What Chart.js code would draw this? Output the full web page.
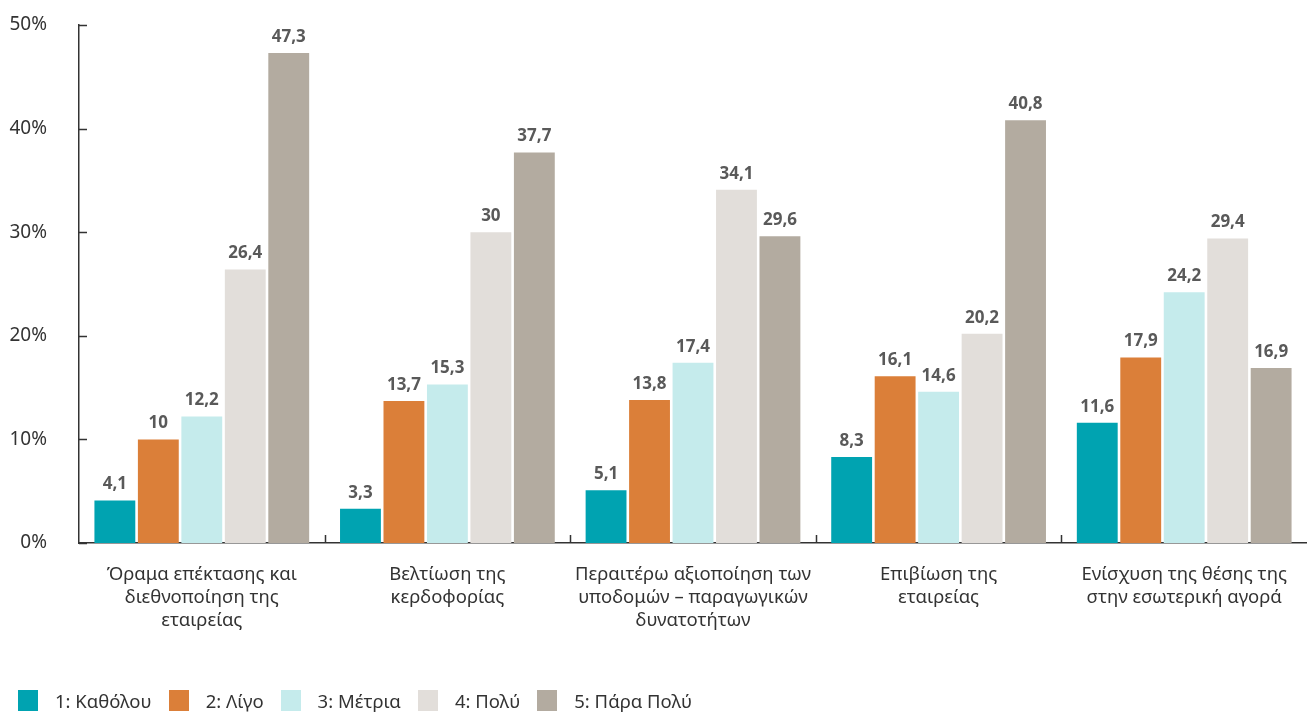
<!DOCTYPE html>
<html>
<head>
<meta charset="utf-8">
<script src="https://cdn.jsdelivr.net/npm/chart.js@4"></script>
<style>
  html, body { margin: 0; padding: 0; background: #fff; }
  #wrap { position: relative; width: 1307px; height: 713px; }
  #legend { position: absolute; left: 18px; top: 690px; display: flex; font: 18.5px "Noto Sans", sans-serif; color: #333; line-height: 21px; }
  #legend .item { display: flex; align-items: center; margin-right: 17px; }
  #legend .box { width: 20px; height: 21px; margin-right: 17px; }
</style>
</head>
<body>
<div id="wrap">
  <canvas id="chartCanvas" width="1307" height="713"></canvas>
  <div id="legend"></div>
</div>
<script>
// categories (multi-line labels)
const categories = [
  ['Όραμα επέκτασης και', 'διεθνοποίηση της', 'εταιρείας'],
  ['Βελτίωση της', 'κερδοφορίας'],
  ['Περαιτέρω αξιοποίηση των', 'υποδομών – παραγωγικών', 'δυνατοτήτων'],
  ['Επιβίωση της', 'εταιρείας'],
  ['Ενίσχυση της θέσης της', 'στην εσωτερική αγορά']
];

// series names and values (%)
const seriesNames = ['1: Καθόλου', '2: Λίγο', '3: Μέτρια', '4: Πολύ', '5: Πάρα Πολύ'];
const katholou = [4.1, 3.3, 5.1, 8.3, 11.6];
const ligo = [10, 13.7, 13.8, 16.1, 17.9];
const metria = [12.2, 15.3, 17.4, 14.6, 24.2];
const poly = [26.4, 30, 34.1, 20.2, 29.4];
const paraPoly = [47.3, 37.7, 29.6, 40.8, 16.9];

// y axis tick labels
const yTickLabels = ['0%', '10%', '20%', '30%', '40%', '50%'];

const colors = ['#00A3B1', '#DB7F39', '#C5EBEC', '#E2DEDA', '#B3ABA0'];
const seriesValues = [katholou, ligo, metria, poly, paraPoly];

// value labels above bars
const valueLabels = {
  id: 'valueLabels',
  afterDatasetsDraw(chart) {
    const ctx = chart.ctx;
    ctx.save();
    ctx.font = 'bold 17px "Noto Sans", sans-serif';
    ctx.fillStyle = '#595959';
    ctx.textAlign = 'center';
    ctx.textBaseline = 'middle';
    chart.data.datasets.forEach((ds, di) => {
      chart.getDatasetMeta(di).data.forEach((bar, i) => {
        ctx.fillText(String(ds.data[i]).replace('.', ','), bar.x, bar.y - 16);
      });
    });
    ctx.restore();
  }
};

// inward tick marks on both axes
const innerTicks = {
  id: 'innerTicks',
  afterDatasetsDraw(chart) {
    const ctx = chart.ctx, x = chart.scales.x, y = chart.scales.y;
    ctx.save();
    ctx.strokeStyle = '#333';
    ctx.lineWidth = 1.5;
    ctx.beginPath();
    y.ticks.forEach((t, i) => {
      const py = Math.round(y.getPixelForTick(i)) + 0.5;
      ctx.moveTo(x.left, py);
      ctx.lineTo(x.left + 8, py);
    });
    for (let i = 1; i < x.ticks.length; i++) {
      const px = Math.round((x.getPixelForTick(i - 1) + x.getPixelForTick(i)) / 2) + 0.5;
      ctx.moveTo(px, y.bottom);
      ctx.lineTo(px, y.bottom - 8);
    }
    ctx.stroke();
    ctx.restore();
  }
};

const legendEl = document.getElementById('legend');
seriesNames.forEach((name, i) => {
  const item = document.createElement('div');
  item.className = 'item';
  item.innerHTML = '<span class="box" style="background:' + colors[i] + '"></span><span>' + name + '</span>';
  legendEl.appendChild(item);
});

try {
  const ctx = document.getElementById('chartCanvas').getContext('2d');
  new Chart(ctx, {
    type: 'bar',
    data: {
      labels: categories,
      datasets: seriesNames.map((name, i) => ({
        label: name,
        data: seriesValues[i],
        backgroundColor: colors[i],
        borderWidth: 0,
        categoryPercentage: 0.885,
        barPercentage: 0.94
      }))
    },
    options: {
      responsive: false,
      animation: false,
      layout: { padding: { top: 25, right: 0, left: 0, bottom: 0 } },
      plugins: {
        legend: { display: false },
        tooltip: { enabled: false }
      },
      scales: {
        x: {
          grid: { display: false, drawTicks: false },
          border: { color: '#333', width: 1.5 },
          ticks: {
            color: '#333',
            padding: 20,
            maxRotation: 0,
            autoSkip: false,
            font: { family: '"Noto Sans", sans-serif', size: 18.5, lineHeight: 1.24 }
          },
          afterFit(scale) { scale.height = 170; }
        },
        y: {
          min: 0,
          max: 50,
          grid: { display: false, drawTicks: false },
          border: { color: '#333', width: 1.5 },
          ticks: {
            stepSize: 10,
            color: '#333',
            padding: 32,
            font: { family: '"Noto Sans", sans-serif', size: 19 },
            callback: (v) => yTickLabels[v / 10]
          },
          afterFit(scale) {
            scale.width = 79;
            scale.paddingTop = 0;
            scale.paddingBottom = 0;
          }
        }
      }
    },
    plugins: [valueLabels, innerTicks]
  });
} catch (error) {
  console.error('Error initializing chart:', error);
}
</script>
</body>
</html>
